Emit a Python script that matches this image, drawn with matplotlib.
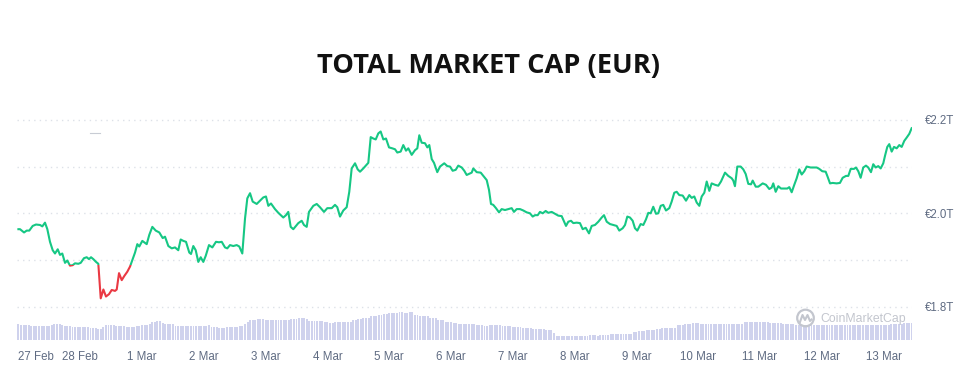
import numpy as np
import matplotlib
matplotlib.use("Agg")
import matplotlib.pyplot as plt
from matplotlib.patches import Rectangle, Circle
from matplotlib.lines import Line2D

# days since 27 Feb 00:00
DAYS = [
    0.000, 0.026, 0.091, 0.134, 0.176, 0.231, 0.285, 0.350, 0.387, 0.430,
    0.468, 0.511, 0.555, 0.592, 0.636, 0.673, 0.710, 0.754, 0.791, 0.835,
    0.878, 0.916, 0.969, 1.008, 1.061, 1.105, 1.142, 1.175, 1.212, 1.256,
    1.293, 1.332, 1.375, 1.417, 1.466, 1.510, 1.563, 1.591, 1.628, 1.672,
    1.714, 1.762, 1.806, 1.843, 1.887, 1.924, 1.956, 2.005, 2.076, 2.118,
    2.167, 2.222, 2.280, 2.335, 2.372, 2.426, 2.481, 2.534, 2.587, 2.626,
    2.668, 2.712, 2.765, 2.793, 2.830, 2.869, 2.911, 2.950, 2.992, 3.031,
    3.084, 3.138, 3.197, 3.246, 3.290, 3.343, 3.380, 3.424, 3.477, 3.532,
    3.574, 3.623, 3.667, 3.704, 3.748, 3.791, 3.856, 3.909, 3.963, 4.006,
    4.044, 4.087, 4.152, 4.206, 4.286, 4.330, 4.367, 4.406, 4.448, 4.529,
    4.584, 4.621, 4.665, 4.702, 4.772, 4.827, 4.880, 4.945, 4.998, 5.070,
    5.123, 5.160, 5.204, 5.257, 5.312, 5.354, 5.393, 5.447, 5.490, 5.528,
    5.581, 5.662, 5.701, 5.743, 5.782, 5.824, 5.862, 5.905, 5.948, 5.997,
    6.050, 6.094, 6.131, 6.186, 6.228, 6.272, 6.309, 6.364, 6.417, 6.455,
    6.487, 6.526, 6.579, 6.617, 6.649, 6.688, 6.725, 6.778, 6.822, 6.891,
    6.940, 6.984, 7.027, 7.076, 7.118, 7.173, 7.215, 7.254, 7.335, 7.361,
    7.416, 7.481, 7.523, 7.578, 7.615, 7.647, 7.684, 7.728, 7.777, 7.820,
    7.874, 7.927, 7.982, 8.019, 8.063, 8.117, 8.170, 8.225, 8.278, 8.322,
    8.359, 8.403, 8.440, 8.484, 8.532, 8.574, 8.629, 8.683, 8.736, 8.791,
    8.817, 8.861, 8.898, 8.942, 8.979, 9.034, 9.087, 9.131, 9.180, 9.233,
    9.277, 9.330, 9.384, 9.439, 9.476, 9.520, 9.573, 9.626, 9.681, 9.723,
    9.778, 9.816, 9.853, 9.896, 9.940, 9.977, 10.015, 10.069, 10.112, 10.155,
    10.193, 10.231, 10.273, 10.317, 10.354, 10.393, 10.435, 10.479, 10.532, 10.571,
    10.613, 10.652, 10.694, 10.749, 10.803, 10.856, 10.895, 10.937, 10.976, 11.018,
    11.057, 11.099, 11.138, 11.180, 11.218, 11.272, 11.325, 11.369, 11.434, 11.487,
    11.542, 11.568, 11.595, 11.633, 11.688, 11.730, 11.769, 11.811, 11.855, 11.882,
    11.931, 11.973, 12.044, 12.097, 12.150, 12.189, 12.215, 12.254, 12.296, 12.340,
    12.388, 12.442, 12.474, 12.513, 12.555, 12.594, 12.636, 12.675, 12.717, 12.756,
    12.820, 12.874, 12.917, 12.960, 13.008, 13.063, 13.095, 13.133, 13.176, 13.241,
    13.294, 13.338, 13.392, 13.429, 13.468, 13.521, 13.553, 13.591, 13.629, 13.671,
    13.715, 13.752, 13.796, 13.833, 13.872, 13.914, 13.953, 13.995, 14.023, 14.060,
    14.092, 14.131, 14.169, 14.212, 14.254, 14.293, 14.335, 14.374, 14.416, 14.454,
]

# total market cap, trillion EUR
MARKET_CAP = [
    1.966, 1.966, 1.959, 1.963, 1.963, 1.973, 1.976, 1.975, 1.972, 1.980,
    1.966, 1.939, 1.921, 1.914, 1.923, 1.911, 1.914, 1.894, 1.899, 1.888,
    1.889, 1.893, 1.892, 1.894, 1.904, 1.906, 1.902, 1.906, 1.902, 1.896,
    1.892, 1.818, 1.837, 1.822, 1.827, 1.836, 1.834, 1.837, 1.872, 1.857,
    1.866, 1.875, 1.886, 1.900, 1.916, 1.934, 1.929, 1.941, 1.934, 1.954,
    1.971, 1.963, 1.959, 1.947, 1.950, 1.930, 1.925, 1.927, 1.921, 1.944,
    1.941, 1.939, 1.916, 1.913, 1.930, 1.921, 1.896, 1.906, 1.896, 1.909,
    1.932, 1.927, 1.939, 1.938, 1.939, 1.927, 1.925, 1.932, 1.930, 1.932,
    1.929, 1.914, 1.989, 2.032, 2.043, 2.025, 2.020, 2.027, 2.034, 2.036,
    2.016, 2.021, 2.009, 2.001, 1.991, 1.996, 2.003, 1.971, 1.966, 1.979,
    1.984, 1.975, 1.971, 2.003, 2.016, 2.020, 2.013, 2.003, 2.011, 2.011,
    2.018, 2.013, 1.993, 2.006, 2.013, 2.046, 2.096, 2.107, 2.094, 2.089,
    2.096, 2.108, 2.163, 2.160, 2.158, 2.171, 2.175, 2.158, 2.160, 2.141,
    2.139, 2.137, 2.130, 2.132, 2.146, 2.134, 2.139, 2.125, 2.135, 2.139,
    2.167, 2.151, 2.150, 2.141, 2.146, 2.116, 2.108, 2.088, 2.100, 2.107,
    2.101, 2.100, 2.091, 2.093, 2.102, 2.098, 2.091, 2.082, 2.087, 2.096,
    2.088, 2.087, 2.080, 2.071, 2.050, 2.020, 2.018, 2.011, 2.002, 2.009,
    2.007, 2.009, 2.011, 2.003, 2.009, 2.009, 2.006, 2.002, 2.000, 1.993,
    1.996, 1.996, 2.003, 2.000, 2.005, 2.001, 2.003, 1.999, 1.995, 1.994,
    1.986, 1.973, 1.982, 1.984, 1.979, 1.980, 1.979, 1.966, 1.969, 1.957,
    1.973, 1.975, 1.982, 1.991, 1.996, 1.982, 1.977, 1.975, 1.973, 1.963,
    1.968, 1.975, 1.993, 1.991, 1.984, 1.968, 1.963, 1.977, 1.975, 1.987,
    2.001, 2.000, 2.014, 1.999, 2.000, 2.016, 2.018, 2.006, 2.011, 2.025,
    2.044, 2.046, 2.039, 2.038, 2.027, 2.039, 2.033, 2.036, 2.023, 2.016,
    2.036, 2.044, 2.068, 2.048, 2.064, 2.061, 2.059, 2.068, 2.087, 2.080,
    2.075, 2.070, 2.058, 2.100, 2.100, 2.094, 2.084, 2.063, 2.062, 2.070,
    2.057, 2.057, 2.064, 2.061, 2.052, 2.055, 2.064, 2.046, 2.058, 2.053,
    2.053, 2.053, 2.056, 2.045, 2.061, 2.075, 2.094, 2.083, 2.090, 2.100,
    2.098, 2.098, 2.098, 2.095, 2.090, 2.089, 2.078, 2.064, 2.065, 2.064,
    2.065, 2.076, 2.080, 2.080, 2.095, 2.095, 2.098, 2.090, 2.076, 2.098,
    2.102, 2.098, 2.088, 2.105, 2.098, 2.101, 2.096, 2.107, 2.123, 2.142,
    2.148, 2.132, 2.142, 2.139, 2.146, 2.142, 2.155, 2.162, 2.170, 2.182,
]

# hourly volume bars (billion EUR), stored as (value, number of hours)
VOLUME_RUNS = [
    (67, 1), (61, 4), (57, 8), (63, 1), (67, 3), (63, 1), (57, 3), (53, 7),
    (49, 3), (47, 2), (53, 1), (61, 4), (57, 4), (53, 4), (57, 2), (61, 3),
    (67, 1), (72, 1), (75, 1), (77, 2), (71, 1), (64, 4), (57, 13), (60, 1),
    (53, 3), (49, 3), (53, 5), (57, 2), (67, 1), (73, 1), (81, 3), (85, 3),
    (83, 10), (85, 3), (88, 3), (85, 1), (77, 6), (75, 2), (71, 2), (73, 1),
    (72, 5), (75, 1), (81, 2), (85, 2), (89, 3), (99, 3), (103, 2), (107, 2),
    (109, 4), (112, 2), (109, 2), (112, 2), (103, 2), (96, 4), (89, 3), (80, 3),
    (73, 3), (69, 2), (65, 7), (63, 3), (57, 2), (63, 5), (57, 4), (53, 4),
    (49, 4), (45, 5), (40, 3), (29, 1), (17, 2), (16, 9), (19, 2), (20, 3),
    (17, 1), (21, 4), (27, 9), (33, 2), (36, 3), (40, 4), (45, 2), (49, 6),
    (63, 3), (67, 3), (69, 3), (67, 4), (65, 13), (72, 2), (75, 4), (72, 4),
    (68, 5), (65, 5), (63, 37), (67, 5), (71, 4),
]

TICK_LABELS = ["27 Feb", "28 Feb", "1 Mar", "2 Mar", "3 Mar", "4 Mar", "5 Mar",
               "6 Mar", "7 Mar", "8 Mar", "9 Mar", "10 Mar", "11 Mar",
               "12 Mar", "13 Mar"]
Y_TICKS = [1.8, 2.0, 2.2]
Y_LABELS = ["€1.8T", "€2.0T", "€2.2T"]
RED_BELOW = 1.890

GREEN = "#16c784"
RED = "#ea3943"
GREY_TEXT = "#5f6b82"
GRID = "#dde1e8"
FONT = "Liberation Sans"

W, H = 978, 392


def fx(px):
    return px / W


def fy(py):
    return 1 - py / H


def main():
    fig = plt.figure(figsize=(W / 100, H / 100), dpi=100)
    fig.patch.set_facecolor("white")

    left, right = 17.3, 911.7
    top, bottom = 110, 340.3
    xlim = (-0.018, 14.455)

    # volume bars
    vol = np.repeat([v for v, n in VOLUME_RUNS], [n for v, n in VOLUME_RUNS])
    hours = np.arange(len(vol)) / 24.0
    axv = fig.add_axes([fx(left), fy(bottom), fx(right - left), 40 / H])
    axv.bar(hours, vol, width=0.75 / 24, color="#cfd2ed", align="center", linewidth=0)
    axv.set_xlim(*xlim)
    axv.set_ylim(0, 160)
    axv.axis("off")

    ax = fig.add_axes([fx(left), fy(bottom), fx(right - left), (bottom - top) / H])
    ax.set_facecolor("none")
    ax.set_xlim(*xlim)
    ax.set_ylim(1.7283, 2.2210)

    # line, green above threshold, red below
    x0, x1 = xlim
    up = Rectangle((x0, RED_BELOW), x1 - x0, 5, transform=ax.transData)
    down = Rectangle((x0, RED_BELOW - 5), x1 - x0, 5, transform=ax.transData)
    g, = ax.plot(DAYS, MARKET_CAP, color=GREEN, lw=1.5, solid_joinstyle="round")
    r, = ax.plot(DAYS, MARKET_CAP, color=RED, lw=1.5, solid_joinstyle="round")
    g.set_clip_path(up)
    r.set_clip_path(down)

    for s in ax.spines.values():
        s.set_visible(False)

    ax.yaxis.tick_right()
    ax.set_yticks(Y_TICKS)
    ax.set_yticklabels(Y_LABELS, family=FONT)
    ax.set_yticks([1.9, 2.1], minor=True)
    ax.grid(axis="y", which="both", color=GRID, linestyle=(0, (1, 3)), lw=1)
    ax.tick_params(axis="y", which="both", length=0, pad=9.6, labelsize=8.3,
                   labelcolor=GREY_TEXT)

    ax.set_xticks(range(len(TICK_LABELS)))
    ax.set_xticklabels(TICK_LABELS, family=FONT)
    ax.tick_params(axis="x", length=0, pad=8, labelsize=8.3, labelcolor=GREY_TEXT)
    ax.get_xticklabels()[0].set_horizontalalignment("left")

    fig.text(0.5, fy(66), "TOTAL MARKET CAP (EUR)", ha="center", va="center",
             fontsize=19.6, fontweight="bold", family="Open Sans", color="#111111")

    # stray tooltip dash near the top left
    fig.add_artist(Line2D([fx(90), fx(100)], [fy(132.5), fy(132.5)],
                          transform=fig.transFigure, color="#c8ccd4", lw=0.8))

    # watermark (positions in inches from the bottom left)
    wm = "#c3c6ce"
    tr = fig.dpi_scale_trans
    cx, cy = 8.055, (H - 318) / 100
    fig.add_artist(Circle((cx, cy), 0.083, transform=tr, fill=False,
                          edgecolor=wm, lw=1.6))
    fig.add_artist(Line2D([cx - 0.055, cx - 0.03, cx - 0.005, cx + 0.02, cx + 0.045, cx + 0.06],
                          [cy - 0.04, cy + 0.03, cy - 0.02, cy + 0.03, cy - 0.03, cy - 0.015],
                          transform=tr, color=wm, lw=1.5))
    fig.text(fx(820), fy(319), "CoinMarketCap", ha="left", va="center",
             fontsize=8.8, color=wm, family=FONT)

    fig.savefig("out.png", dpi=100, facecolor="white")


if __name__ == "__main__":
    main()
